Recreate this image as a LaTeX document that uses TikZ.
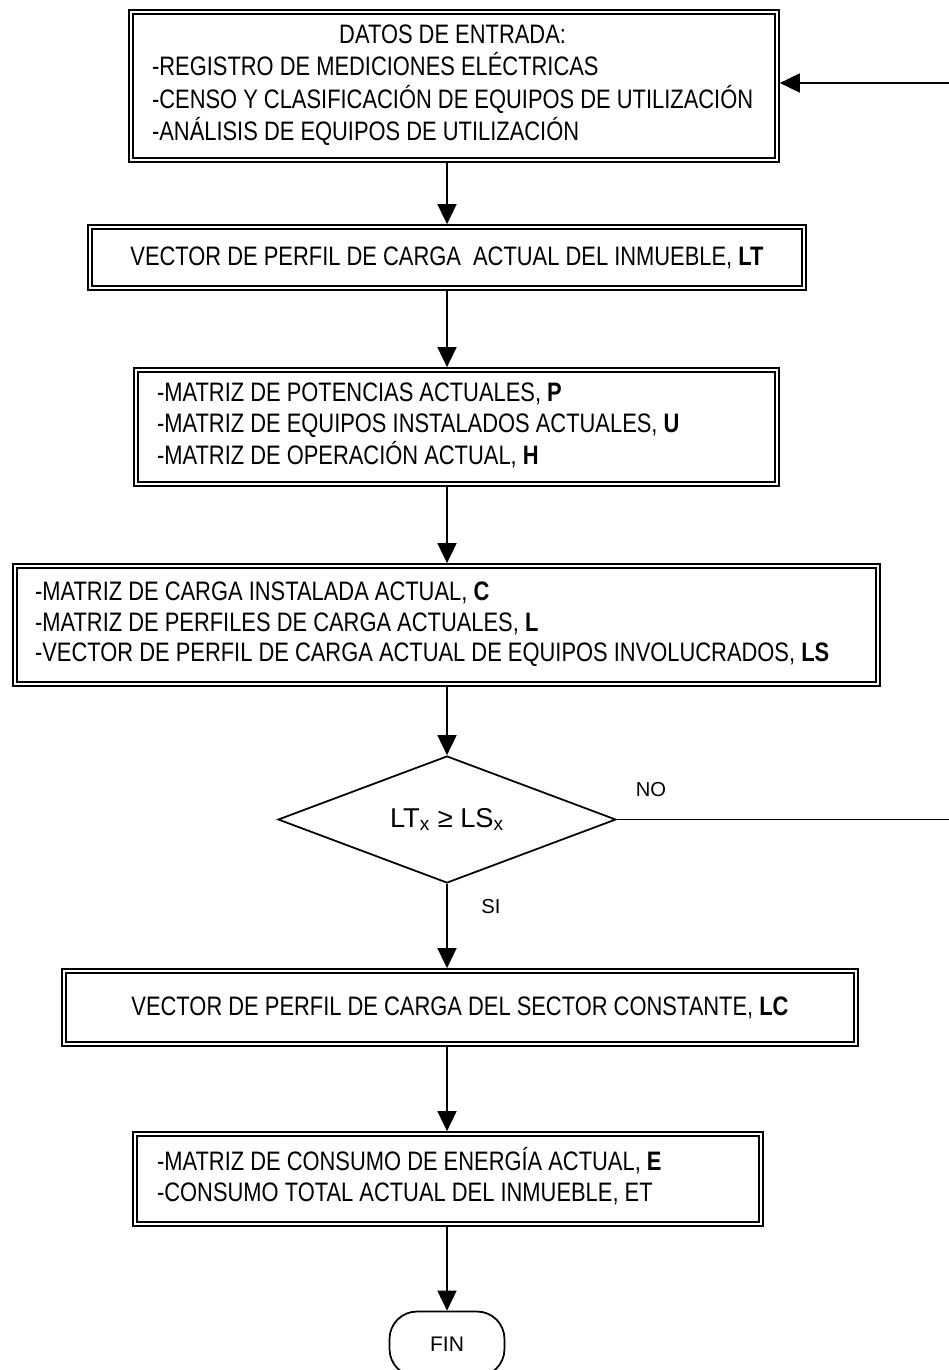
\documentclass[tikz,border=0pt]{standalone}
\usepackage{fontspec}
\setmainfont{Liberation Sans}
\newfontfamily\estrecha{Liberation Sans}[FakeStretch=0.82]
\usepackage{tikz}
\usetikzlibrary{arrows.meta, shapes.geometric}

\begin{document}
\begin{tikzpicture}[x=0.02cm, y=-0.02cm,
    caja/.style={draw, double, double distance=1.5pt, line width=0.9pt, outer sep=1.65pt, inner ysep=0pt, font=\estrecha\fontsize{15.2}{17.5}\selectfont},
    flecha/.style={-{Triangle[length=0.4cm, width=0.38cm]}, line width=1pt},
    rotulo/.style={font=\fontsize{11.5}{13}\selectfont}]
    \useasboundingbox (0,0) rectangle (948,1370);
    % Diagrama de flujo
    \coordinate (eje) at (447,0);
    \coordinate (vuelta) at (952,83);

    \node[caja, minimum width=12.92cm, minimum height=2.96cm, inner xsep=0.42cm] (datos) at (454,86)
        {\makebox[12.08cm][l]{\begin{tabular}{@{}l@{}}\multicolumn{1}{@{}c@{}}{DATOS DE ENTRADA:}\\ -REGISTRO DE MEDICIONES ELÉCTRICAS\\ -CENSO Y CLASIFICACIÓN DE EQUIPOS DE UTILIZACIÓN\\ -ANÁLISIS DE EQUIPOS DE UTILIZACIÓN\end{tabular}}};
    \node[caja, minimum width=14.28cm, minimum height=1.22cm] (perfil) at (447,257.5)
        {VECTOR DE PERFIL DE CARGA~ ACTUAL DEL INMUEBLE, \textbf{LT}};
    \node[caja, minimum width=12.82cm, minimum height=2.28cm, inner xsep=0.42cm] (potencias) at (456.5,427)
        {\makebox[11.98cm][l]{\begin{tabular}{@{}l@{}}-MATRIZ DE POTENCIAS ACTUALES, \textbf{P}\\ -MATRIZ DE EQUIPOS INSTALADOS ACTUALES, \textbf{U}\\ -MATRIZ DE OPERACIÓN ACTUAL, \textbf{H}\end{tabular}}};
    \node[caja, minimum width=17.26cm, minimum height=2.36cm, inner xsep=0.4cm] (carga) at (446.5,625)
        {\makebox[16.46cm][l]{\begin{tabular}{@{}l@{}}-MATRIZ DE CARGA INSTALADA ACTUAL, \textbf{C}\\ -MATRIZ DE PERFILES DE CARGA ACTUALES, \textbf{L}\\ -VECTOR DE PERFIL DE CARGA ACTUAL DE EQUIPOS INVOLUCRADOS, \textbf{LS}\end{tabular}}};
    \node[diamond, draw, line width=1pt, inner sep=0pt, aspect=2.66, minimum width=6.76cm, minimum height=2.54cm, font=\fontsize{15.5}{18}\selectfont] (decision) at (447,819.5)
        {LT\textsubscript{x} ≥ LS\textsubscript{x}};
    \node[caja, minimum width=15.84cm, minimum height=1.46cm] (sector) at (460,1007.5)
        {VECTOR DE PERFIL DE CARGA DEL SECTOR CONSTANTE, \textbf{LC}};
    \node[caja, minimum width=12.52cm, minimum height=1.8cm, inner xsep=0.44cm] (consumo) at (448,1179)
        {\makebox[11.64cm][l]{\begin{tabular}{@{}l@{}}-MATRIZ DE CONSUMO DE ENERGÍA ACTUAL, \textbf{E}\\ -CONSUMO TOTAL ACTUAL DEL INMUEBLE, ET\end{tabular}}};
    \node[draw, line width=1pt, rounded corners=0.55cm, minimum width=2.3cm, minimum height=1.3cm, font=\fontsize{12}{14}\selectfont] (fin) at (447,1344) {FIN};

    \node[rotulo] (no) at (651,790) {NO};
    \node[rotulo] (si) at (491,907) {SI};

    \draw[flecha] (datos.south -| eje) -- (perfil.north -| eje);
    \draw[flecha] (perfil.south -| eje) -- (potencias.north -| eje);
    \draw[flecha] (potencias.south -| eje) -- (carga.north -| eje);
    \draw[flecha] (carga.south -| eje) -- (decision.north);
    \draw[flecha] (decision.south) -- (sector.north -| eje);
    \draw[flecha] (sector.south -| eje) -- (consumo.north -| eje);
    \draw[flecha] (consumo.south -| eje) -- (fin.north);
    \draw[flecha] (decision.east) -- (decision.east -| vuelta) -- (vuelta) -- (vuelta -| datos.east);
\end{tikzpicture}
\end{document}
